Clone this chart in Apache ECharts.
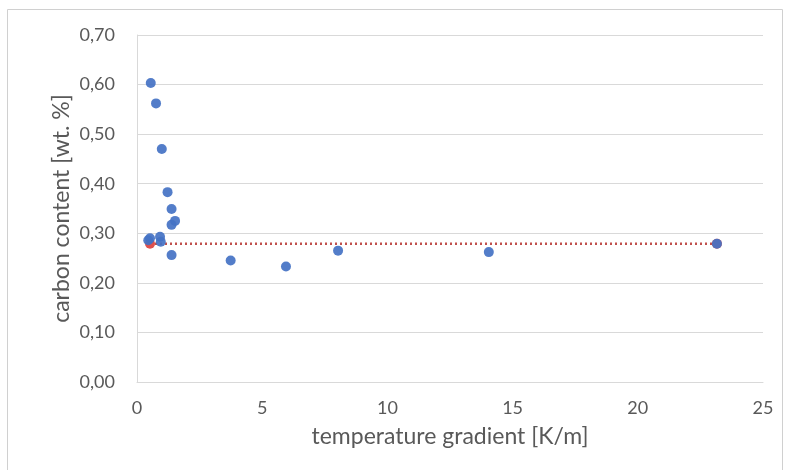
<!DOCTYPE html>
<html><head><meta charset="utf-8">
<script src="https://cdn.jsdelivr.net/npm/echarts@6/dist/echarts.min.js"></script>
<style>html,body{margin:0;padding:0;background:#fff}#c{width:787px;height:470px}</style>
</head><body><div id="c"></div>
<script>
const gradient = [0.55, 0.76, 0.99, 1.22, 1.38, 1.52, 1.38, 0.52, 0.92, 0.95, 0.45, 1.38, 3.74, 5.95, 8.03, 14.05, 23.16];
const carbon   = [0.603, 0.562, 0.470, 0.383, 0.349, 0.325, 0.317, 0.290, 0.293, 0.283, 0.286, 0.256, 0.245, 0.233, 0.265, 0.262, 0.279];
const refX = [0.52, 23.16];
const refY = [0.279, 0.279];
const xTicks = [0, 5, 10, 15, 20, 25];
const yTicks = [0, 0.1, 0.2, 0.3, 0.4, 0.5, 0.6, 0.7];

const font = 'Lato, "Open Sans", sans-serif';
const chart = echarts.init(document.getElementById('c'));
chart.setOption({
  animation: false,
  backgroundColor: '#fff',
  graphic: [{type:'rect', shape:{x:7.5,y:9.5,width:775,height:470}, style:{fill:'none', stroke:'#d0d0d0', lineWidth:1}, silent:true}],
  grid: {left:137, right:24, top:35, bottom:88},
  xAxis: {
    type:'value', min:xTicks[0], max:xTicks[xTicks.length-1], interval:5,
    name:'temperature gradient [K/m]', nameLocation:'middle', nameGap:43, nameMoveOverlap:false,
    nameTextStyle:{color:'#595959', fontSize:23, fontFamily:font},
    axisLine:{show:true, lineStyle:{color:'#d9d9d9'}}, axisTick:{show:false},
    axisLabel:{color:'#595959', fontSize:18, fontFamily:font, margin:17},
    splitLine:{show:false}
  },
  yAxis: {
    type:'value', min:yTicks[0], max:yTicks[yTicks.length-1], interval:0.1,
    name:'carbon content [wt. %]', nameLocation:'middle', nameGap:64, nameMoveOverlap:false,
    nameTextStyle:{color:'#595959', fontSize:23, fontFamily:font},
    axisLine:{show:true, lineStyle:{color:'#d9d9d9'}}, axisTick:{show:false},
    axisLabel:{color:'#595959', fontSize:18, fontFamily:font, margin:22,
      formatter:v=>v.toFixed(2).replace('.',',')},
    splitLine:{show:true, lineStyle:{color:'#d9d9d9'}}
  },
  series: [
    {type:'line', data:refX.map((x,i)=>[x,refY[i]]), symbol:'circle', symbolSize:10,
      itemStyle:{color:'#e0504d'}, lineStyle:{color:'#c0504d', type:[2,3], width:2.5}, z:2},
    {type:'scatter', data:gradient.map((x,i)=>[x,carbon[i]]), symbolSize:10,
      itemStyle:{color:'#4472c4', opacity:0.92}, z:3}
  ]
});
</script></body></html>
